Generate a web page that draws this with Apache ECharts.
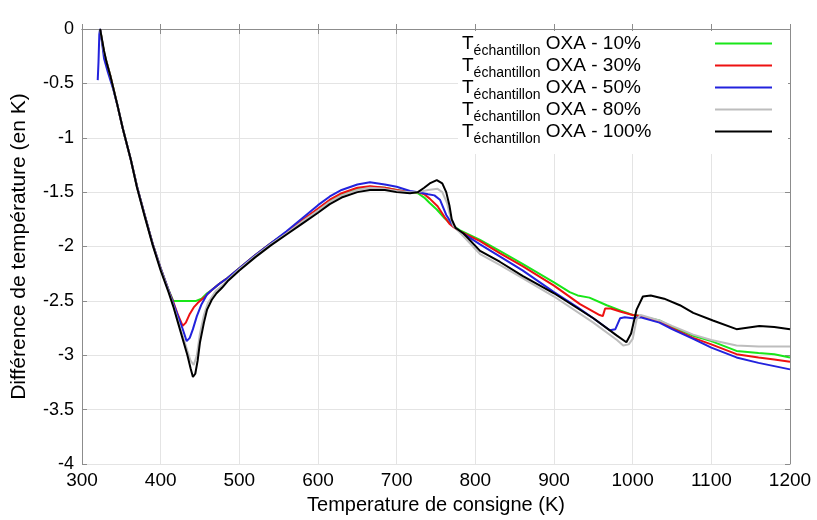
<!DOCTYPE html>
<html><head><meta charset="utf-8">
<script src="https://cdn.jsdelivr.net/npm/echarts@6/dist/echarts.min.js"></script>
<style>html,body{margin:0;padding:0;background:#fff}#c{width:817px;height:520px}</style>
</head><body><div id="c"></div>
<script>
const seriesNames = ['OXA - 10%', 'OXA - 30%', 'OXA - 50%', 'OXA - 80%', 'OXA - 100%'];
const seriesColors = ['#19e619', '#ee1111', '#2222dd', '#bdbdbd', '#000000'];
const xLabel = 'Temperature de consigne (K)';
const yLabel = 'Différence de température (en K)';

const oxa10 = [[323,0],[328,-0.22],[336,-0.43],[345,-0.7],[352,-0.92],[362,-1.2],[370,-1.45],[380,-1.72],[390,-1.98],[400,-2.2],[410,-2.4],[416,-2.5],[425,-2.5],[435,-2.5],[445,-2.5],[452,-2.48],[459,-2.43],[465,-2.4],[475,-2.34],[485,-2.29],[500,-2.2],[520,-2.08],[540,-1.97],[560,-1.87],[580,-1.76],[600,-1.66],[615,-1.58],[630,-1.52],[650,-1.47],[666,-1.45],[685,-1.46],[700,-1.48],[717,-1.5],[727,-1.51],[735,-1.55],[742,-1.6],[751,-1.66],[761,-1.74],[770,-1.8],[780,-1.85],[806,-1.94],[831,-2.04],[860,-2.16],[900,-2.33],[920,-2.42],[930,-2.45],[945,-2.47],[967,-2.54],[985,-2.59],[1000,-2.63],[1010,-2.64],[1034,-2.68],[1050,-2.74],[1077,-2.82],[1100,-2.87],[1132,-2.96],[1160,-2.98],[1180,-2.99],[1200,-3.02]];
const oxa30 = [[323,0],[328,-0.22],[336,-0.43],[345,-0.7],[352,-0.92],[362,-1.2],[370,-1.45],[380,-1.72],[390,-1.98],[400,-2.2],[410,-2.4],[416,-2.51],[422,-2.63],[428,-2.73],[432,-2.7],[437,-2.62],[442,-2.56],[447,-2.52],[455,-2.47],[465,-2.4],[475,-2.34],[485,-2.29],[500,-2.2],[520,-2.08],[540,-1.97],[560,-1.87],[580,-1.76],[600,-1.65],[615,-1.57],[630,-1.51],[650,-1.46],[666,-1.445],[685,-1.46],[700,-1.48],[717,-1.5],[727,-1.5],[735,-1.52],[742,-1.56],[752,-1.63],[761,-1.73],[767,-1.79],[772,-1.82],[780,-1.86],[806,-1.95],[831,-2.06],[860,-2.18],[900,-2.36],[933,-2.53],[958,-2.63],[962,-2.64],[965,-2.57],[972,-2.57],[985,-2.6],[1000,-2.63],[1010,-2.64],[1034,-2.69],[1050,-2.75],[1077,-2.84],[1100,-2.9],[1132,-2.99],[1160,-3.02],[1180,-3.04],[1200,-3.06]];
const oxa50 = [[320,-0.47],[321,-0.3],[322,-0.05],[323,0],[325,-0.1],[328,-0.27],[333,-0.4],[340,-0.56],[345,-0.7],[352,-0.92],[362,-1.2],[370,-1.45],[380,-1.72],[390,-1.98],[400,-2.2],[410,-2.4],[416,-2.52],[422,-2.64],[428,-2.76],[433,-2.87],[437,-2.84],[441,-2.76],[446,-2.64],[452,-2.53],[459,-2.44],[465,-2.4],[475,-2.34],[485,-2.29],[500,-2.2],[520,-2.08],[540,-1.97],[560,-1.86],[580,-1.74],[600,-1.62],[615,-1.54],[630,-1.48],[650,-1.43],[666,-1.41],[685,-1.43],[700,-1.45],[717,-1.49],[727,-1.5],[740,-1.52],[748,-1.53],[755,-1.57],[763,-1.71],[772,-1.81],[780,-1.86],[806,-1.98],[831,-2.09],[860,-2.22],[900,-2.42],[930,-2.56],[950,-2.66],[971,-2.77],[978,-2.76],[984,-2.66],[990,-2.65],[1000,-2.66],[1010,-2.65],[1034,-2.7],[1050,-2.76],[1077,-2.85],[1100,-2.93],[1132,-3.02],[1160,-3.07],[1180,-3.1],[1200,-3.13]];
const oxa80 = [[323,0],[328,-0.21],[336,-0.43],[345,-0.7],[352,-0.92],[362,-1.2],[370,-1.46],[380,-1.73],[390,-1.99],[400,-2.21],[410,-2.41],[416,-2.54],[422,-2.68],[428,-2.82],[434,-2.96],[438,-3.05],[442,-3.09],[446,-3.0],[450,-2.8],[455,-2.63],[460,-2.52],[470,-2.41],[478,-2.36],[485,-2.31],[500,-2.21],[520,-2.09],[540,-1.98],[560,-1.88],[580,-1.77],[600,-1.67],[615,-1.59],[630,-1.53],[650,-1.48],[666,-1.46],[685,-1.47],[700,-1.49],[717,-1.5],[727,-1.5],[740,-1.48],[752,-1.47],[758,-1.5],[764,-1.6],[768,-1.72],[772,-1.81],[780,-1.87],[806,-2.07],[831,-2.17],[860,-2.29],[900,-2.46],[950,-2.7],[980,-2.86],[988,-2.91],[995,-2.9],[1000,-2.85],[1005,-2.67],[1010,-2.63],[1034,-2.68],[1050,-2.73],[1077,-2.81],[1100,-2.86],[1132,-2.91],[1160,-2.92],[1180,-2.92],[1200,-2.92]];
const oxa100 = [[323,0],[325,0],[328,-0.2],[331,-0.3],[336,-0.43],[345,-0.7],[352,-0.92],[362,-1.2],[370,-1.46],[380,-1.73],[390,-1.99],[400,-2.22],[410,-2.42],[416,-2.55],[422,-2.7],[428,-2.85],[434,-3.0],[438,-3.12],[441,-3.2],[444,-3.17],[447,-3.05],[450,-2.88],[455,-2.7],[459,-2.58],[465,-2.49],[471,-2.43],[478,-2.38],[485,-2.32],[500,-2.22],[520,-2.1],[540,-1.99],[560,-1.89],[580,-1.79],[600,-1.69],[615,-1.61],[630,-1.55],[650,-1.5],[666,-1.48],[685,-1.48],[700,-1.5],[717,-1.51],[727,-1.5],[735,-1.46],[742,-1.42],[751,-1.39],[758,-1.42],[763,-1.5],[767,-1.62],[770,-1.75],[775,-1.83],[785,-1.88],[806,-2.04],[831,-2.14],[860,-2.27],[900,-2.43],[950,-2.66],[980,-2.82],[992,-2.88],[998,-2.8],[1005,-2.58],[1013,-2.46],[1023,-2.45],[1040,-2.48],[1060,-2.54],[1077,-2.61],[1102,-2.68],[1132,-2.76],[1161,-2.73],[1180,-2.74],[1200,-2.76]];

const seriesData = [oxa10, oxa30, oxa50, oxa80, oxa100];
const FONT = 'Liberation Sans';

const chart = echarts.init(document.getElementById('c'), null, {renderer: 'canvas'});
const axisGray = '#8c8c8c';
chart.setOption({
  animation: false,
  backgroundColor: '#fff',
  textStyle: {fontFamily: FONT},
  grid: {left: 82, right: 27, top: 29, bottom: 50},
  xAxis: [{
    type: 'value', min: 300, max: 1200, interval: 100,
    name: xLabel, nameLocation: 'middle', nameGap: 31,
    nameTextStyle: {fontSize: 20, color: '#000', fontFamily: FONT},
    axisLine: {lineStyle: {color: axisGray}},
    axisTick: {inside: true, length: 5, lineStyle: {color: axisGray}},
    axisLabel: {fontSize: 19, color: '#000', margin: 7, fontFamily: FONT, formatter: function (v) { return String(v); }},
    splitLine: {show: true, lineStyle: {color: '#e4e4e4'}}
  }, {
    type: 'value', min: 300, max: 1200, interval: 100, position: 'top',
    axisLine: {show: true, lineStyle: {color: axisGray}},
    axisTick: {inside: true, length: 5, lineStyle: {color: axisGray}},
    axisLabel: {show: false}, splitLine: {show: false}
  }],
  yAxis: [{
    type: 'value', min: -4, max: 0, interval: 0.5,
    name: yLabel, nameLocation: 'middle', nameGap: 52, nameRotate: 90,
    nameTextStyle: {fontSize: 21, color: '#000', fontFamily: FONT},
    axisLine: {show: true, lineStyle: {color: axisGray}},
    axisTick: {show: true, inside: true, length: 5, lineStyle: {color: axisGray}},
    axisLabel: {fontSize: 18, color: '#000', margin: 8, fontFamily: FONT},
    splitLine: {show: true, lineStyle: {color: '#e4e4e4'}}
  }, {
    type: 'value', min: -4, max: 0, interval: 0.5, position: 'right',
    axisLine: {show: true, lineStyle: {color: axisGray}},
    axisTick: {show: true, inside: true, length: 5, lineStyle: {color: axisGray}},
    axisLabel: {show: false}, splitLine: {show: false}
  }],
  legend: {
    orient: 'vertical', left: 458, top: 31, align: 'right',
    backgroundColor: '#fff', padding: [3, 16, 8, 4], itemGap: -2,
    itemWidth: 57, itemHeight: 2, icon: 'rect',
    data: seriesNames,
    formatter: function (name) { return '{t|T}{s|échantillon}{t| ' + name + '}'; },
    textStyle: {
      width: 248, color: '#000', fontFamily: FONT,
      rich: {
        t: {fontSize: 19, lineHeight: 19, verticalAlign: 'top', align: 'left', fontFamily: FONT, color: '#000'},
        s: {fontSize: 14, lineHeight: 14, padding: [10, 0, 0, 0], verticalAlign: 'top', align: 'left', fontFamily: FONT, color: '#000'}
      }
    }
  },
  series: seriesNames.map(function (n, i) {
    return {
      name: n, type: 'line', xAxisIndex: 0, yAxisIndex: 0,
      data: seriesData[i], showSymbol: false, symbol: 'none',
      color: seriesColors[i],
      lineStyle: {width: 2, color: seriesColors[i]}
    };
  })
});
</script>
</body></html>
